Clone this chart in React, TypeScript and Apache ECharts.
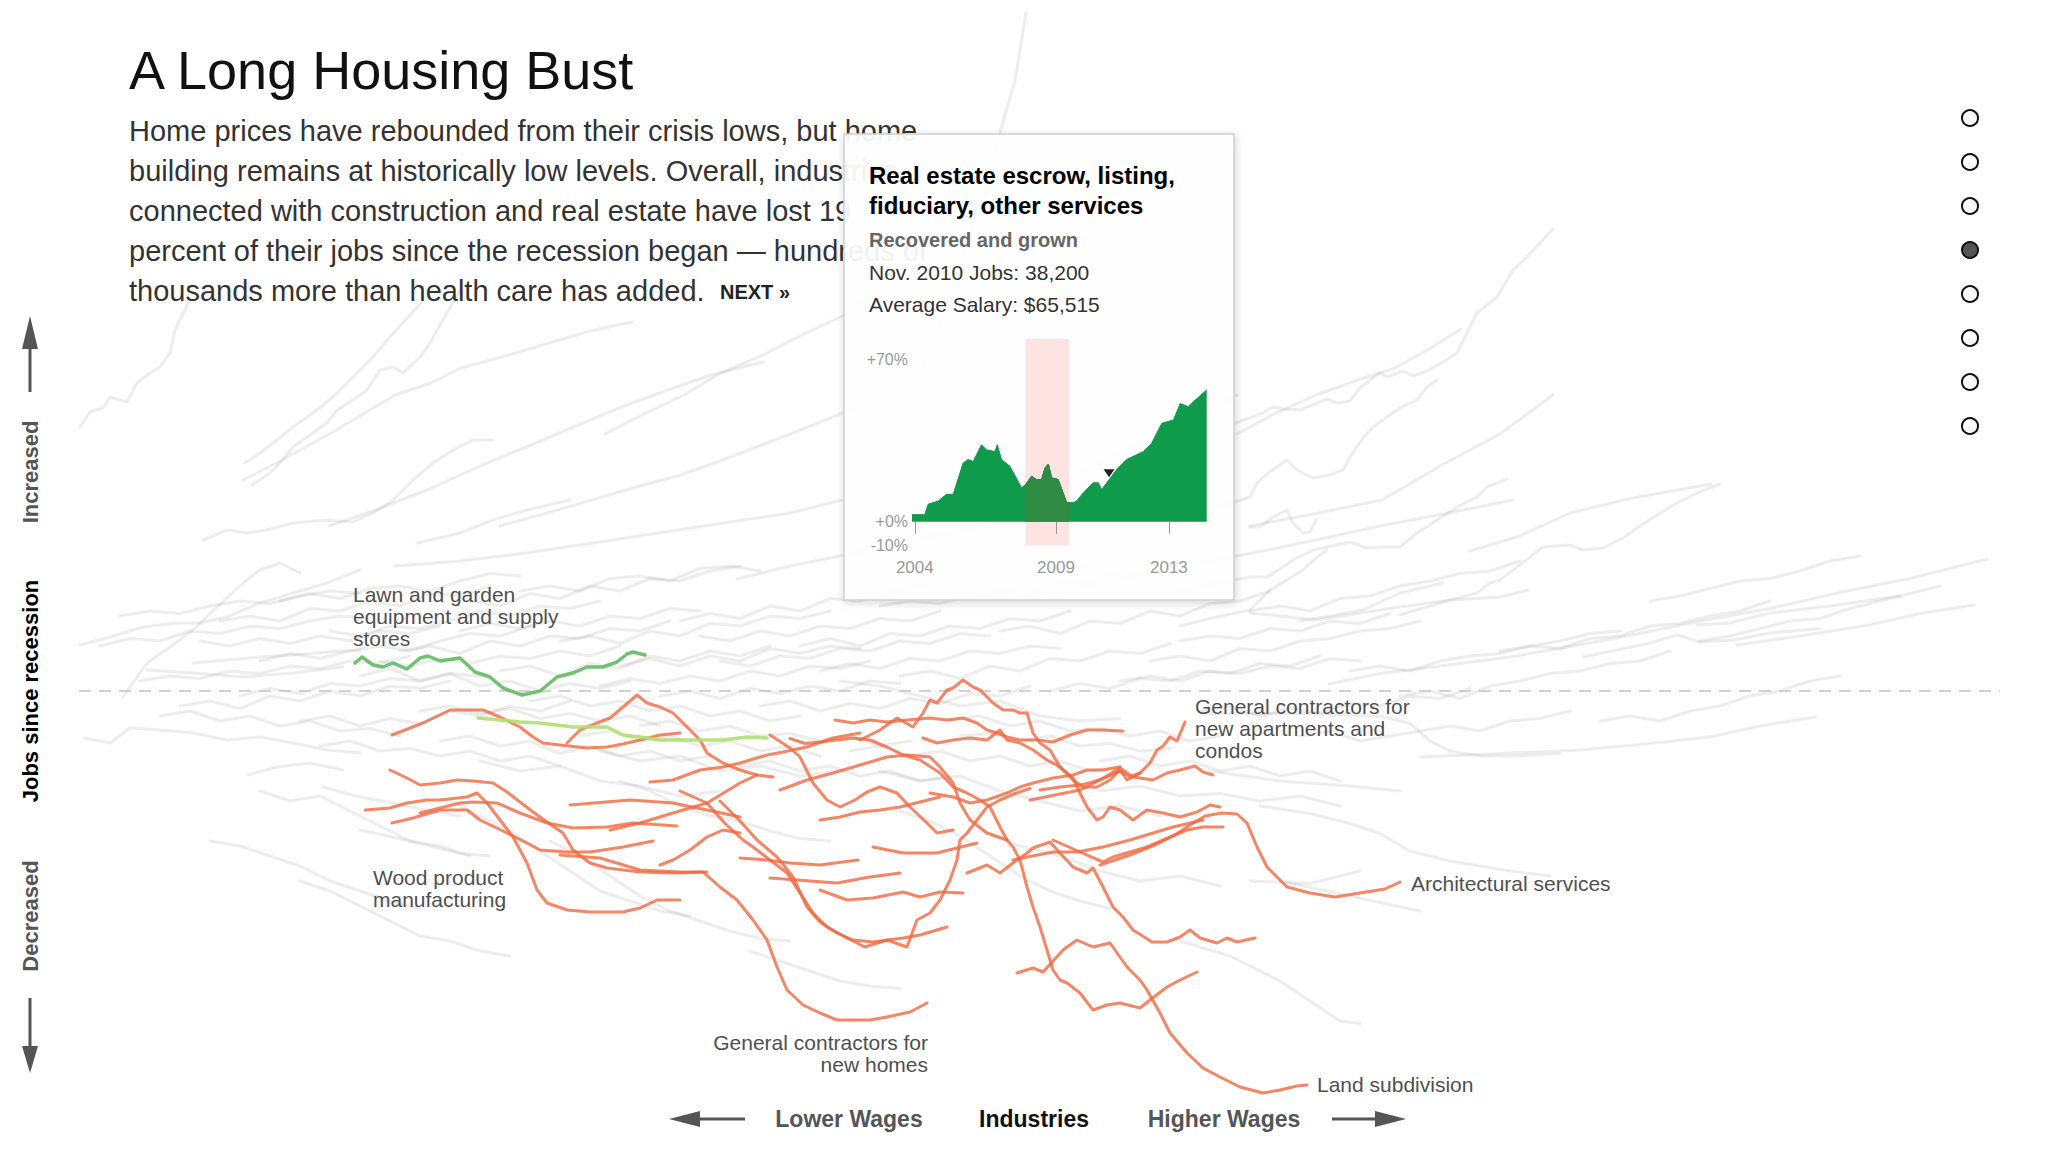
import React, { useEffect, useRef } from "react";
import * as echarts from "echarts";

const FONT = "'Liberation Sans', Arial, Helvetica, sans-serif";

// x = average wage ($k), y = jobs change since the recession began (%), flat [x, y, x, y, ...]
const grayUpper: number[][] = [
  [8, 52.8, 9, 55.8, 10.3, 56.6, 11, 58.8, 12.7, 57.8, 13.7, 61.6, 15, 63.6, 16, 64.8, 17, 67.6, 17.5, 72.2, 19, 78.2],
  [24.5, 45.6, 26, 47.6, 27.7, 50.2, 29.3, 52.8, 31.3, 55.6, 33.3, 58.8, 35.3, 62.8, 37.3, 66.8, 39, 70.8, 42.1, 77.6],
  [25.2, 41.2, 27, 43.6, 28, 45.6, 29.3, 48.8, 30.7, 50.8, 32.7, 53.6, 33.7, 56.2, 35.3, 58.2, 36.7, 60.2, 38, 64.2, 39.3, 64.8, 40.3, 63.6, 42, 66.8, 43, 69.6, 43.7, 72.2, 46, 80.2],
  [20.3, 30.2, 22.7, 32.2, 24.7, 31.6, 26.7, 32.2, 29.3, 33.6, 32.7, 34.2, 35.3, 33.8, 37.3, 35.6, 39.3, 38.2, 41.3, 42.2, 43.3, 45.6, 45.3, 48.2, 47.3, 50.2, 49.2, 50.2],
  [41.7, 29.6, 46, 31.6, 49.3, 34.2, 52.7, 36.2, 57, 38.2],
  [24.3, 42.2, 28.5, 46.5, 32.9, 51.4, 36, 55, 39.5, 59.2, 43, 61.5, 46.1, 64.6, 50.5, 67, 55.3, 69.8, 59, 72, 63.2, 73.8],
  [32.9, 33, 38, 36.5, 43.4, 40.8, 48, 45, 52.6, 48.8, 57, 52.5, 61.9, 56.6, 66.5, 60, 71.1, 63.2, 76.3, 65.8],
  [50, 33, 54.5, 35.5, 59.2, 38.2, 64, 41, 68.4, 43.4, 74, 47.5, 79, 51.4, 85.5, 56.6],
  [39.5, 25, 46, 26, 52.6, 27.6, 59, 29.5, 65.8, 31.6, 72, 33.5, 79, 35.6, 84.2, 38.2],
  [60.5, 51.4, 64, 55, 68.4, 59.2, 72, 63.5, 76.3, 67.2, 80, 71, 84.2, 75, 88, 80.5, 92.1, 85.6],
  [73.7, 22.4, 79, 25, 85.5, 27.6, 92, 30.5, 98.7, 33, 105.3, 34.2],
  [89.5, 56.6, 92.1, 64.6, 94, 73, 96.1, 85.6, 98, 97, 100, 111.8, 101.5, 122, 102.6, 135.6],
  [94.8, 35.6, 100, 38.5, 105.3, 40.8, 110, 45.5, 115.8, 51.4, 120, 55, 123.7, 59.2],
  [105.3, 19.8, 112, 22.5, 118.4, 25, 125, 27.5, 131.6, 30.2, 138, 33, 144.8, 35.6, 151.3, 38.2],
  [123.7, 51.4, 127.5, 55.5, 131.6, 59.2, 135.5, 62, 139.5, 64.6, 143, 68.5, 146.1, 72.4],
  [125, 33, 131.6, 35.5, 138.2, 38.2, 144, 45, 150, 51.4, 155.3, 59.2],
  [123, 53.2, 126.3, 55.6, 127.3, 56.8, 128.3, 56.4, 130, 56.2, 131, 57, 132.7, 58.4, 133.7, 57.6, 135, 58, 136, 60.6, 137, 62.2, 138, 63.6, 138.7, 62.8, 140.3, 64, 141.3, 63, 142.7, 64, 144.3, 65.8, 145.7, 67.6, 147, 72.8, 147.7, 75.6, 149.7, 78.8, 151.3, 84.2, 152.7, 86.8, 154, 89.6, 155.3, 92.4],
  [120, 36.2, 122.5, 37.2, 125, 38.8, 125.7, 41.6, 126.8, 43.6, 128.7, 46.2, 129.7, 44.2, 131.3, 42.6, 133, 43.2, 134.3, 44.2, 135, 46.8, 136.3, 50.6, 137.3, 52.8, 138.7, 54.8, 140, 56.6, 141.7, 58.2, 142.7, 60.8, 143.7, 62.2],
  [125, 32.8, 126, 32.8, 127.3, 34.8, 128.7, 36.2, 129.3, 33.6, 130.3, 31.6, 131, 31.8, 131.6, 34.2],
  [118, 20, 121.5, 21.5, 125, 22.8, 126.7, 22.8, 128.3, 24.8, 129.3, 26.2, 131.3, 28.2, 132.7, 28.8, 135, 29.8, 136.7, 28.6, 138.3, 28.8, 140, 28.8, 141.7, 31.6, 143.7, 34.2, 145.7, 36.8, 147.7, 38.8, 148.7, 40.8, 150.7, 42.4],
  [118, 13, 121, 14.5, 125, 16.2, 127, 20.2, 128.7, 22.2, 130.3, 24.2, 131.7, 26.8, 132.7, 28.2],
  [140, 15.2, 145, 18.2, 147.7, 19.6, 149, 21.6, 150, 22.2, 153, 26.8, 154.3, 28.8, 157, 29.2, 158.3, 28.2, 160.3, 28.6, 162.3, 30.6, 163.7, 32.6, 166, 35.6, 167.7, 37.6, 169.7, 39.6, 172, 41.4],
  [125, 15.6, 131.7, 14.2, 136, 15.6, 140, 16.8, 145, 18.2, 150, 18.8, 152.8, 20.2],
  [130, 14, 133, 15, 136.3, 16.2, 140, 19.6, 144.2, 21.6],
  [158.3, 6.8, 161.7, 8.2, 165, 9.6, 167.7, 11.2, 170, 9.8, 173.3, 10.2, 177, 11.6, 182, 12.5],
  [169.7, 13.2, 173, 13.6, 177, 15.6, 183, 17, 190, 19],
  [147, 28, 152, 31, 157, 35.6, 163, 38.5, 171.1, 41.4],
];

const grayBand: number[][] = [
  [8, 9.2, 11, 10.8, 14.3, 12.8, 17.7, 13.6, 20, 13.6, 22.7, 14.8, 26, 17.6, 29.3, 19.6, 32.7, 21.6, 36, 24.2],
  [12.3, -1.2, 14.7, 5.6, 17, 8.8, 19.3, 12.2, 21.7, 16.8, 24.3, 21.6, 26, 24.2, 28, 25.6, 30, 23.6],
  [8.5, -9.4, 11, -10.4, 13, -7.4, 16, -7.8, 19.3, -8.4, 22.7, -9.8, 26, -9.2, 29.3, -10.4, 32.7, -11.8, 36, -12.4],
  [19.3, 5.6, 22.7, 6.2, 26, 6.8, 29.3, 7.2, 32.7, 7.8, 36, 8.2],
  [14.7, 4.2, 19.3, 3.6, 24.3, 2.8, 29.3, 3.6, 34.3, 4.8],
  [10, 9, 13, 10.5, 16, 10, 19, 12, 22, 11.5, 25, 13, 28, 12.5, 31, 14, 34, 15, 37, 14.5],
  [14, 2, 17, 3, 20, 2.5, 23, 4, 26, 3.5, 29, 5, 32, 4.5, 35, 6, 38, 5.5, 41, 7],
  [18, -3, 21, -2, 24, -3.5, 27, -1, 30, -2, 33, 0, 36, -1, 39, 1, 42, 0.5, 45, 2],
  [22, 14, 25, 15, 28, 14, 31, 16.5, 34, 16, 37, 18, 40, 17, 43, 19.5, 46, 19, 49, 21],
  [26, 6, 29, 7.5, 32, 6.5, 35, 8, 38, 9, 41, 8, 44, 10, 47, 11.5, 50, 11, 53, 13],
  [30, -6, 33, -5, 36, -7, 39, -5.5, 42, -6.5, 45, -4, 48, -5, 51, -3, 54, -4, 57, -2],
  [33, 12, 36, 11, 39, 13, 42, 12.5, 45, 14, 48, 16, 51, 15, 54, 17, 57, 16.5, 60, 18],
  [36, 3, 39, 4.5, 42, 2, 45, 3.5, 48, 1, 51, 2, 54, 0, 57, 1.5, 60, 0.5, 63, 2],
  [40, 8, 43, 9, 46, 7.5, 49, 10, 52, 9, 55, 11, 58, 10.5, 61, 12.5, 64, 12, 67, 14],
  [44, -10, 47, -9, 50, -11, 53, -10, 56, -12.5, 59, -11, 62, -13, 65, -12, 68, -14, 71, -13],
  [47, 18, 50, 17, 53, 19.5, 56, 18.5, 59, 21, 62, 20, 65, 22.5, 68, 22, 71, 24, 74, 25],
  [50, 4, 53, 5, 56, 3, 59, 5.5, 62, 4.5, 65, 7, 68, 6, 71, 8, 74, 7, 77, 9],
  [53, -2, 56, -1, 59, -3, 62, -2, 65, -4, 68, -3, 71, -5, 74, -4, 77, -6, 80, -5],
  [56, 10, 59, 11, 62, 9.5, 65, 12, 68, 11, 71, 13.5, 74, 13, 77, 15, 80, 14.5, 83, 16],
  [60, 1, 63, 2.5, 66, 1.5, 69, 3, 72, 2, 75, 4, 78, 3, 81, 5, 84, 4.5, 87, 6],
  [64, -7, 67, -6, 70, -8, 73, -7, 76, -9, 79, -8.5, 82, -10, 85, -9, 88, -11, 91, -10],
  [68, 14, 71, 15.5, 74, 14.5, 77, 17, 80, 16, 83, 18.5, 86, 18, 89, 20, 92, 21, 95, 20.5],
  [72, 6, 75, 5, 78, 7, 81, 6.5, 84, 8.5, 87, 8, 90, 10, 93, 9.5, 96, 11.5, 99, 11],
  [76, -3, 79, -2, 82, -4, 85, -2.5, 88, -3.5, 91, -1.5, 94, -2.5, 97, -0.5, 100, -1, 103, 1],
  [80, 9, 83, 10.5, 86, 9, 89, 11.5, 92, 11, 95, 13, 98, 12.5, 101, 14.5, 104, 14, 107, 16],
  [85, -12, 88, -11, 91, -13, 94, -12, 97, -14, 100, -13, 103, -15, 106, -14, 109, -16, 112, -15],
  [90, 3, 93, 4, 96, 2.5, 99, 5, 102, 4, 105, 6.5, 108, 6, 111, 8, 114, 7.5, 117, 9.5],
  [95, -6, 98, -5, 101, -7, 104, -6, 107, -8, 110, -7.5, 113, -9, 116, -8, 119, -10, 122, -9],
  [100, 12, 103, 13, 106, 11.5, 109, 14, 112, 13.5, 115, 16, 118, 15, 121, 17.5, 124, 18, 127, 20],
  [105, 0, 108, 1.5, 111, 0.5, 114, 2.5, 117, 2, 120, 4, 123, 3.5, 126, 5.5, 129, 5, 132, 7],
  [110, -14, 113, -13, 116, -15, 119, -14, 122, -16, 125, -15, 128, -17, 131, -16, 134, -18],
  [115, 6, 118, 7, 121, 6, 124, 8.5, 127, 8, 130, 10, 133, 10.5, 136, 12, 139, 12.5, 142, 14],
  [120, -4, 123, -3, 126, -5, 129, -3.5, 132, -4.5, 135, -2.5, 138, -3, 141, -1, 144, -1.5, 147, 0.5],
  [125, 16, 128, 17, 131, 16, 134, 18.5, 137, 19, 140, 21, 143, 22, 146, 23.5, 149, 24, 152, 26],
  [130, -9, 133, -8, 136, -10, 139, -9, 142, -8, 145, -7, 148, -8, 151, -6, 154, -5.5, 157, -4],
  [135, 4, 138, 5, 141, 4, 144, 6, 147, 7, 150, 7.5, 153, 9, 156, 10, 159, 11.5, 162, 12],
  [140, -1, 143, 0, 146, -1.5, 149, 1, 152, 2, 155, 3.5, 158, 4, 161, 5.5, 164, 6, 167, 8],
  [150, 8, 153, 9, 156, 8.5, 159, 10.5, 162, 11, 165, 13, 168, 13.5, 171, 15, 174, 16, 177, 18],
  [160, -6, 163, -5, 166, -6, 169, -4, 172, -3, 175, -1, 178, 0, 181, 2, 184, 3],
  [170, 10, 173, 11, 176, 12.5, 179, 14, 182, 14.5, 185, 16.5, 188, 18, 191, 19.5, 194, 21],
  [165, 18, 168, 19, 171, 20.5, 174, 22, 177, 22.5, 180, 24, 183, 26, 186, 27],
  [132.9, 1.4, 138, 3.5, 144.8, 5.2, 151, 6.8, 157.9, 9.2, 164, 11.5, 171.1, 14.4, 177, 16.5, 184.2, 19.8, 191, 22.5, 198.7, 26.4],
  [173.7, 9.2, 180, 11, 186.9, 13.2, 192, 15.5, 197.4, 17.2],
  [84, 2, 88, 1, 92, -1, 96, -3, 100, -2, 104, -5, 108, -6, 112, -5.5],
  [88, -16, 92, -18, 96, -17, 100, -20, 104, -22, 108, -24, 112, -23, 116, -25],
  [98, -28, 102, -31, 106, -33, 110, -36, 114, -38, 118, -37, 122, -39],
  [110, -20, 114, -19, 118, -21, 122, -20.5, 126, -22, 130, -21, 134, -23],
  [60, -12, 64, -14, 68, -13, 72, -16, 76, -15, 80, -17, 84, -16],
  [48, -14, 52, -16, 56, -15, 60, -18, 64, -19, 68, -21, 72, -20],
  [12, 15, 15, 16, 18, 15.5, 21, 17, 24, 18, 27, 17.5, 30, 19, 33, 20, 36, 19.5],
  [16, -5, 19, -4, 22, -6, 25, -5, 28, -7, 31, -6, 34, -8, 37, -7.5, 40, -9],
  [20, 10, 23, 9, 26, 10.5, 29, 9.5, 32, 11, 35, 10, 38, 12, 41, 11.5, 44, 13],
  [24, -1, 27, 0.5, 30, -0.5, 33, 1.5, 36, 1, 39, 2.5, 42, 2, 45, 3.5, 48, 3],
  [28, 18, 31, 19.5, 34, 18.5, 37, 20.5, 40, 21, 43, 20, 46, 22, 49, 23.5, 52, 23],
  [32, -11, 35, -10, 38, -12, 41, -11.5, 44, -13, 47, -12, 50, -14, 53, -13, 56, -15],
  [38, 6, 41, 5, 44, 6.5, 47, 5.5, 50, 7, 53, 6.5, 56, 8, 59, 7, 62, 9],
  [42, -4, 45, -3, 48, -4.5, 51, -3.5, 54, -5.5, 57, -4.5, 60, -6, 63, -5, 66, -7],
  [46, 12, 49, 13.5, 52, 12.5, 55, 14, 58, 13, 61, 15, 64, 14.5, 67, 16.5, 70, 16],
  [52, 20, 55, 21, 58, 20, 61, 22.5, 64, 23, 67, 22, 70, 24.5, 73, 25, 76, 24],
  [58, -9, 61, -8, 64, -10, 67, -9, 70, -11, 73, -10, 76, -12, 79, -11, 82, -13],
  [62, 5, 65, 6.5, 68, 5, 71, 7, 74, 6, 77, 8.5, 80, 7.5, 83, 9, 86, 8.5],
  [66, -1, 69, 0, 72, -1.5, 75, 0.5, 78, -0.5, 81, 1, 84, 0, 87, 2, 90, 1.5],
  [70, 11, 73, 10, 76, 12, 79, 11, 82, 13, 85, 12.5, 88, 14.5, 91, 14, 94, 16],
  [74, -15, 77, -14, 80, -16, 83, -15, 86, -17, 89, -16, 92, -18, 95, -17],
  [82, 4, 85, 5.5, 88, 4.5, 91, 6.5, 94, 6, 97, 8, 100, 7.5, 103, 9, 106, 8.5],
  [88, 17, 91, 18, 94, 17.5, 97, 19, 100, 20, 103, 19.5, 106, 21.5, 109, 22, 112, 23.5],
  [96, -9, 99, -8.5, 102, -10, 105, -9, 108, -11, 111, -10.5, 114, -12, 117, -11.5],
  [112, 2, 115, 3, 118, 2, 121, 4, 124, 3.5, 127, 5, 130, 4.5, 133, 6.5, 136, 6],
  [118, 10, 121, 11, 124, 10.5, 127, 12.5, 130, 12, 133, 14, 136, 13.5, 139, 15.5],
];

const grayLower: number[][] = [
  [24.8, -16.8, 27.7, -15.2, 31, -14.4, 34.3, -15.8],
  [32.3, -19.2, 36, -21.2, 39.3, -22.4, 43, -24, 46, -25],
  [36, -27.8, 39.3, -29.2, 43, -31, 46, -32.5, 49, -33],
  [21, -30, 24, -31, 27, -33, 30, -35, 33, -38, 36, -40, 39, -42, 42, -43.5],
  [26, -20, 29, -22, 32, -21, 35, -24, 38, -27, 41, -30, 44, -31, 47, -33],
  [30, -38, 33, -40, 36, -43, 39, -46, 42, -49, 45, -50, 48, -52, 51, -53],
  [45, -22, 48, -25, 51, -28, 54, -32, 57, -36, 60, -40, 63, -42, 66, -44, 69, -45],
  [55, -30, 58, -33, 61, -37, 64, -41, 67, -44, 70, -46, 73, -48, 76, -49.5, 79, -50],
  [75, -52, 78, -54, 81, -56, 84, -58, 87, -59, 90, -59.5],
  [62, -18, 65, -20, 68, -23, 71, -25, 74, -26, 77, -28, 80, -29.5, 83, -30],
  [90, -24, 93, -26, 96, -29, 99, -33, 102, -37, 105, -40, 108, -42, 111, -43.5],
  [118, -50, 123, -53, 128, -58, 131, -62, 134, -66, 136, -66.5],
  [126, -23, 131, -24.5, 135, -26.5, 138, -28.5, 141, -32, 145, -34, 148, -35, 151, -36, 155, -37],
  [121, -16, 128, -18, 135, -19, 140, -20],
  [121, -4.5, 131, -4.5, 138, -5, 141, -6.5, 143, -10, 145, -12, 148, -13, 151, -13, 156, -12.5],
  [125, -38, 131, -38.5, 136, -36],
  [128, -38, 135, -41, 142, -44],
  [142, -13.2, 150, -12.5, 158, -11.8, 165, -10.5, 171, -9.2, 176, -7, 181.6, -5.2],
];

// construction and real estate industries
const woodProduct = [36.5, -23.8, 39, -23.4, 40.7, -22.4, 42.7, -21.8, 44, -21.8, 46.7, -21.2, 47.7, -20.4, 48.7, -22.4, 50, -25.8, 51.3, -29.2, 52.7, -34.4, 53.7, -39.8, 54.7, -42.4, 56.7, -43.8, 59, -44.2, 62.3, -44.2, 64, -43.4, 65.7, -41.8, 68, -41.8];
const contractorsNewHomes = [56, -32.8, 60, -33.4, 64, -35.8, 68, -36.2, 70.3, -36.2, 72, -39.2, 73.7, -41.8, 75.3, -45.8, 76.7, -49.8, 77.7, -55.2, 78.7, -59.8, 80.3, -62.8, 82, -64.4, 83.7, -65.8, 87, -65.8, 88.7, -65.2, 91, -64.2, 92.7, -62.4];
const contractorsApartments = [104, -19.8, 106, -19.2, 108, -18.8, 109.3, -18.2, 110.7, -17.2, 112, -16, 113, -17.2, 114, -16.4, 115, -14.4, 115.7, -11.8, 116.3, -11, 117, -9.2, 117.7, -10, 118.5, -6.2];
const architecturalServices = [110, -34.8, 113, -32.8, 115.5, -30.8, 117.5, -28.8, 119, -26.8, 120.5, -25, 122.2, -24.4, 123.7, -24.6, 124.7, -26.4, 125.7, -31.2, 126.7, -35.2, 128.7, -39.2, 131, -40.4, 133.5, -41.2, 136, -40.4, 138.5, -39.6, 140, -38.2];
const landSubdivision = [101.7, -56.4, 103.3, -55.4, 104.3, -56.2, 106.3, -51.8, 107.7, -49.8, 109.3, -51.2, 111, -50.4, 112.7, -55.2, 114, -57.8, 114.7, -59.8, 116, -64.4, 117, -68.4, 118.7, -72.4, 120.3, -75.4, 122, -77.2, 124, -79.2, 126.3, -80.4, 128, -79.8, 129.7, -79, 130.7, -78.8];
const otherConstruction: number[][] = [
  [39.2, -8.8, 42.3, -6.4, 45, -3.8, 48.3, -3.8, 50, -5.2, 52, -7.2, 53.3, -9.2, 54.3, -10.4, 56, -10.8, 58.7, -11.4, 60.7, -11.2, 62.3, -10.6, 64, -9.8, 66, -8.8, 68, -8.4],
  [56.7, -10.4, 58, -7.8, 59.7, -6.4, 61, -5.4, 62.3, -3.2, 63.7, -0.8, 64.7, -2.4, 66, -3.2, 67.3, -4.4, 68.7, -7.2, 70, -9.8, 70.7, -12.4, 72.3, -14.4, 74, -15.8, 75.7, -16.8, 77.3, -17.2],
  [65, -18.2, 67.3, -17.8, 70, -15.8, 72.3, -15.2, 74, -14.4, 76.7, -12.8, 78.3, -12.2, 80.7, -11.2, 83.3, -9.4, 86, -8.4],
  [39, -15.8, 40.7, -17.4, 42, -18.8, 44, -18.4, 45.7, -17.8, 47.3, -18, 49.3, -18.4, 50.7, -20.2, 52, -22.2, 53.3, -24.2, 54.7, -26.2, 56.3, -28.4, 57.3, -31.8, 59, -34.4, 60.7, -35.4, 64, -36.2, 67.3, -36.4, 70.7, -36.2],
  [39.2, -26.4, 41.3, -25.4, 44, -23.8, 46.7, -23.8, 48, -25.8, 50.7, -28.4, 52.7, -30.4, 54, -31.8, 56.7, -32.2, 59, -32.2, 62.3, -31.2, 65.3, -30],
  [42, -24.4, 44, -23.4, 46, -22.4, 47.3, -22.2, 49.7, -22.4, 52, -24.4, 54.7, -26.4, 57.3, -27.4, 60.7, -27.2, 63.3, -26.4, 67.7, -27],
  [57, -22.8, 63, -21.8, 67.3, -22.4, 70.7, -23.8, 74, -25.2],
  [68, -20, 70.7, -22.4, 72.5, -26.5, 74.3, -29.8, 75.3, -31.2, 77, -33.8, 78.7, -36.4, 80, -40.4, 81.3, -44.4, 82.7, -47.2, 84.7, -49.4, 86.5, -51.2, 88.7, -49.8, 90.7, -51.2, 91.7, -45.8, 93, -44.4, 94, -41.8, 95, -37.8, 95.7, -33.8, 96, -29.8, 96.7, -28.4, 97.7, -25.8, 98.7, -23.2, 100, -21.8, 101.5, -20.5, 103, -19.5],
  [72, -22, 74, -26, 75.7, -29.8, 77.7, -33.2, 79.3, -37.2, 80.7, -43.2, 82, -46.2, 83.7, -48.4, 85.3, -49.8, 87.3, -50.2, 90.3, -49.4, 92, -48.8, 94.7, -47.2],
  [74, -33.4, 76.7, -33.8, 79, -34.4, 82, -34.8, 85.8, -33.8],
  [77, -37.4, 79.7, -37.8, 83.7, -38.4, 87, -37.2, 90, -36.4],
  [82, -39.8, 84.7, -41.8, 87.3, -41.4, 90.3, -40.2, 92, -41.2, 94, -40.2, 96.3, -40.4],
  [87.3, -31.2, 90.3, -32.4, 93.7, -32.4, 97.7, -30.4],
  [79, -9.5, 80.5, -10.5, 82, -10.2, 83.7, -9.8, 85.3, -9.4, 87, -9.8, 88.7, -11.2, 90.3, -12.8, 92, -13.8, 94, -16.4, 95.3, -19.2, 96.7, -20.4, 98, -21.8, 99, -23.2, 100, -27.2, 100.7, -29.8, 101.3, -31.2, 102, -33.8, 102.7, -39.2, 103.3, -43.2, 104, -47.2, 104.7, -51.8, 105.3, -55.8, 106, -57.8, 106.7, -58.4, 108, -60.4, 109.3, -63.8, 110.7, -62.8, 112, -62.4, 114, -63.4, 115, -61.8, 116.7, -59.2, 118, -57.8, 119.7, -56.2],
  [86, -9.8, 88, -7.8, 89.7, -5.4, 91.3, -7.2, 92.3, -4.4, 93, -1.8, 93.7, -2.4, 94.7, 0.2, 95.3, 0.6, 96.3, 2.2, 97.3, 0.8, 98, 0.2, 98.7, -1.2, 99.3, -2.4, 100.3, -3.8, 101.3, -3.8, 102, -4.4, 102.7, -4.4, 103.3, -8.4, 104, -10.4, 105, -11.8, 106, -15.2, 107.3, -17.8, 108.3, -19.2, 109.7, -19.2, 111, -17.8, 112, -15.8, 112.7, -17.8, 114, -16.4],
  [83.5, -5.8, 85.3, -6.4, 87, -5.8, 88.7, -6.2, 90.7, -5.8, 93, -5.4, 94.7, -5.8, 96.3, -5.4, 97.7, -6.4, 98.7, -7.8, 99.7, -8.4, 100.7, -9.2, 102, -9.8, 103.7, -9.8, 105.3, -10.2, 107, -8.8, 108.7, -7.8, 110.3, -7.8, 112.3, -8],
  [92.3, -9.4, 93.7, -10.4, 95.3, -9.8, 97, -9.4, 98.7, -9.8, 100, -7.8, 100.7, -9.8, 102, -10.4, 103.3, -11.8, 104.7, -13.8, 106, -15.2, 107.3, -17.4, 108, -20.4, 108.7, -23.2, 109.7, -25.8, 110.3, -25.2, 111, -23.2, 112, -23.8, 113.3, -25.8, 114.7, -23.8, 116.3, -24.4, 118, -25.2, 119.7, -24.2, 121, -22.8, 122, -23.2],
  [103, -21.8, 105.5, -20.8, 108, -19.8, 110, -17.8, 112, -15.4, 113.3, -17.2, 115.3, -17.8, 116.7, -16.4, 118, -15.8, 119.5, -15, 120.3, -16.2, 121.3, -16.8],
  [105.3, -29.8, 108, -32.2, 110.3, -34.2, 111.3, -33.2, 113, -32.2, 114.7, -31.2, 117, -29.2, 118.7, -27.8, 120.3, -27.2, 122.3, -27.2],
  [101.3, -33.8, 102.7, -33.2, 105.3, -32.2, 107.7, -32.2, 110.3, -31.2, 113, -29.8, 115.3, -28.4, 117.3, -27.2, 120.3, -25.8],
  [96.7, -36.4, 98.7, -34.8, 100, -36.4, 101.3, -34.4, 102.7, -32.4, 103.3, -31.4, 105, -30.2, 106, -32.4, 107.3, -35.2, 108.7, -36.4, 109.3, -35.4, 110.3, -39.2, 111.3, -43.2, 112.3, -45.2, 113.3, -47.8, 115.2, -50.2, 116.7, -50.2, 118, -49.2, 119, -47.8, 120, -49.4, 121.7, -50.4, 122.7, -49.4, 123.7, -50.2, 125.5, -49.4],
  [77, -8.8, 79, -11.4, 80, -13.2, 81.3, -18.4, 82.7, -21.8, 84, -23.2, 85.5, -21.8, 86.7, -20.2, 88, -19.2, 89.7, -20.4, 91, -23.2, 92.7, -26.4, 93.7, -28.4, 95.3, -27.8],
  [78, -19.8, 80.7, -17.8, 83.3, -16.4, 86, -14.8, 88.7, -13.2, 90.7, -12.8, 93, -13.2, 94, -15.2, 95.3, -18.4, 96, -22.4, 97, -25.8, 98.7, -28.4, 100.7, -29.8],
  [93, -20.4, 95.3, -21.2, 97, -22.4, 98.7, -21.8, 100.7, -20.4, 102, -19.2, 103.3, -18.4, 105.3, -17.4, 107.3, -16.8, 108.7, -15.8, 110.3, -15.8, 112, -15.2],
  [82, -25.8, 84, -25.2, 86, -24.2, 88, -23.8, 90, -23.2, 92, -22.2, 94, -21.2],
  [66, -34.8, 67.3, -33.8, 69, -31.8, 70.7, -29.2, 72.3, -27.8, 74, -28.4],
  [61, -27.8, 64, -26.4, 67.3, -24.4, 70.7, -22.4, 74, -18.4, 75.7, -16.8],
];

const lawnGarden = [35.5, 5.6, 36.2, 6.8, 37.3, 5.2, 38.3, 4.8, 39.3, 5.6, 40.7, 4.4, 42, 6.6, 42.8, 7, 44, 6, 46, 6.6, 47.5, 3.8, 49, 2.8, 50.3, 0.6, 52.2, -0.8, 54, 0, 55.7, 2.8, 57.3, 3.6, 58.7, 4.8, 60.3, 4.8, 61.7, 5.8, 62.7, 7.4, 63.3, 7.8, 64.5, 7.2];
const lawnGardenOther = [47.8, -5.4, 50, -5.8, 52, -6.2, 54, -6.4, 55.7, -6.8, 57.3, -7.2, 60.7, -7.2, 62.3, -8.8, 64, -9.2, 66, -9.8, 69, -9.8, 72.3, -9.8, 74.7, -9.2, 76.7, -9.4];
const zeroSpan = [7.9, 200];

// Real estate escrow, listing, fiduciary, other services: % change in jobs since 2004
const escrowYears = [2003.9, 2004.35, 2004.47, 2004.83, 2005.12, 2005.36, 2005.71, 2005.89, 2006.07, 2006.36, 2006.54, 2006.84, 2006.92, 2007.07, 2007.37, 2007.78, 2007.92, 2008.14, 2008.31, 2008.49, 2008.61, 2008.73, 2008.85, 2009.08, 2009.38, 2009.46, 2009.61, 2009.73, 2009.97, 2010.32, 2010.5, 2010.62, 2010.8, 2011.15, 2011.5, 2011.74, 2012.1, 2012.39, 2012.75, 2013.16, 2013.4, 2013.69, 2013.93, 2014.34];
const escrowChange = [3.1, 3.1, 7.6, 9, 11.9, 11.9, 25.4, 26.9, 26.1, 33.3, 31.1, 30.4, 33.3, 26.9, 24, 14.7, 16.1, 19.7, 18.3, 18.3, 23.3, 25, 19, 18.3, 8.3, 8.3, 8.3, 9, 12.6, 16.9, 16.9, 14, 16.9, 22.6, 26.9, 28.3, 30.4, 34, 42.6, 44, 51.1, 49.7, 52.6, 57];
const recession = [2007.92, 2009.46];
const selectedMonth = [2010.88, 21];
const miniYearTicks = [2004, 2009, 2013];
const miniPctTicks = [-10, 0, 70];

const bodyLines = [
  "Home prices have rebounded from their crisis lows, but home",
  "building remains at historically low levels. Overall, industries",
  "connected with construction and real estate have lost 19",
  "percent of their jobs since the recession began \u2014 hundreds of",
  "thousands more than health care has added.",
];
const navDots = [0, 1, 2, 3, 4, 5, 6, 7];
const activeDot = 3;

const pairs = (a: number[]) => {
  const out: number[][] = [];
  for (let i = 0; i < a.length; i += 2) out.push([a[i], a[i + 1]]);
  return out;
};

const mainLine = (pts: number[], color: string, width: number) => ({
  type: "line",
  xAxisIndex: 0,
  yAxisIndex: 0,
  data: pairs(pts),
  symbol: "none",
  silent: true,
  lineStyle: { color, width, cap: "round", join: "round" },
});

const text = (x: number, y: number, t: string, size: number, color: string, weight = "normal", align = "left", z = 50, rotation = 0) => ({
  type: "text",
  x,
  y,
  z,
  rotation,
  silent: true,
  style: { text: t, fill: color, font: `${weight} ${size}px ${FONT}`, align, verticalAlign: "middle" },
});

function buildOption() {
  const GRAY = "rgba(165,165,165,0.2)";
  const ORANGE = "rgba(243,104,62,0.8)";
  const series: any[] = [];
  [...grayUpper, ...grayBand, ...grayLower].forEach(l => series.push(mainLine(l, GRAY, 3)));
  series.push({
    type: "line",
    xAxisIndex: 0,
    yAxisIndex: 0,
    data: [[zeroSpan[0], 0], [zeroSpan[1], 0]],
    symbol: "none",
    silent: true,
    lineStyle: { color: "#c4c4c4", width: 1.5, type: [12, 8] },
  });
  [...otherConstruction, woodProduct, contractorsNewHomes, contractorsApartments, architecturalServices, landSubdivision]
    .forEach(l => series.push(mainLine(l, ORANGE, 3)));
  series.push(mainLine(lawnGardenOther, "rgba(176,222,116,0.9)", 3.5));
  series.push(mainLine(lawnGarden, "rgba(98,186,100,0.9)", 3.5));

  // inset chart
  const escrow = escrowYears.map((y, i) => [y, escrowChange[i]]);
  const inRecession = escrow.filter(p => p[0] >= recession[0] && p[0] <= recession[1]);
  series.push({
    type: "line",
    xAxisIndex: 1,
    yAxisIndex: 1,
    z: 105,
    data: escrow,
    symbol: "none",
    silent: true,
    lineStyle: { opacity: 0 },
    markArea: {
      silent: true,
      z: 105,
      itemStyle: { color: "#fde3e2" },
      data: [[{ xAxis: recession[0] }, { xAxis: recession[1] }]],
    },
  });
  series.push({
    type: "line",
    xAxisIndex: 1,
    yAxisIndex: 1,
    z: 110,
    data: escrow,
    symbol: "none",
    silent: true,
    lineStyle: { color: "#0f9a4c", width: 1 },
    areaStyle: { color: "#0f9a4c", opacity: 1 },
    markPoint: {
      silent: true,
      z: 115,
      symbol: "triangle",
      symbolRotate: 180,
      symbolSize: [11, 8],
      itemStyle: { color: "#222" },
      label: { show: false },
      data: [{ coord: selectedMonth }],
    },
  });
  series.push({
    type: "line",
    xAxisIndex: 1,
    yAxisIndex: 1,
    z: 111,
    data: inRecession,
    symbol: "none",
    silent: true,
    lineStyle: { color: "#2f8a43", width: 1 },
    areaStyle: { color: "#2f8a43", opacity: 1 },
  });

  const graphics: any[] = [];
  graphics.push(text(129, 70, "A Long Housing Bust", 54, "#111"));
  bodyLines.forEach((l, i) => graphics.push(text(129, 131 + i * 40, l, 29, "#333")));
  graphics.push(text(720, 292, "NEXT \u00bb", 20, "#222", "bold"));

  // vertical axis legend
  graphics.push({ type: "polygon", z: 50, silent: true, shape: { points: [[30, 316], [22, 349], [38, 349]] }, style: { fill: "#555" } });
  graphics.push({ type: "line", z: 50, silent: true, shape: { x1: 30, y1: 348, x2: 30, y2: 392 }, style: { stroke: "#555", lineWidth: 3 } });
  graphics.push(text(30, 472, "Increased", 22, "#555", "bold", "center", 50, Math.PI / 2));
  graphics.push(text(30, 691, "Jobs since recession", 22, "#000", "bold", "center", 50, Math.PI / 2));
  graphics.push(text(30, 916, "Decreased", 22, "#555", "bold", "center", 50, Math.PI / 2));
  graphics.push({ type: "line", z: 50, silent: true, shape: { x1: 30, y1: 998, x2: 30, y2: 1047 }, style: { stroke: "#555", lineWidth: 3 } });
  graphics.push({ type: "polygon", z: 50, silent: true, shape: { points: [[30, 1073], [22, 1046], [38, 1046]] }, style: { fill: "#555" } });

  // horizontal axis legend
  graphics.push({ type: "polygon", z: 50, silent: true, shape: { points: [[669, 1119], [700, 1111], [700, 1127]] }, style: { fill: "#555" } });
  graphics.push({ type: "line", z: 50, silent: true, shape: { x1: 699, y1: 1119, x2: 745, y2: 1119 }, style: { stroke: "#555", lineWidth: 3 } });
  graphics.push(text(849, 1119, "Lower Wages", 23, "#555", "bold", "center"));
  graphics.push(text(1034, 1119, "Industries", 23, "#111", "bold", "center"));
  graphics.push(text(1224, 1119, "Higher Wages", 23, "#555", "bold", "center"));
  graphics.push({ type: "line", z: 50, silent: true, shape: { x1: 1332, y1: 1119, x2: 1376, y2: 1119 }, style: { stroke: "#555", lineWidth: 3 } });
  graphics.push({ type: "polygon", z: 50, silent: true, shape: { points: [[1406, 1119], [1375, 1111], [1375, 1127]] }, style: { fill: "#555" } });

  // industry labels
  const LABEL = "#505050";
  ["Lawn and garden", "equipment and supply", "stores"].forEach((t, i) => graphics.push(text(353, 594 + i * 22, t, 21, LABEL)));
  ["Wood product", "manufacturing"].forEach((t, i) => graphics.push(text(373, 877 + i * 22, t, 21, LABEL)));
  ["General contractors for", "new homes"].forEach((t, i) => graphics.push(text(928, 1042 + i * 22, t, 21, LABEL, "normal", "right")));
  ["General contractors for", "new apartments and", "condos"].forEach((t, i) => graphics.push(text(1195, 706 + i * 22, t, 21, LABEL)));
  graphics.push(text(1411, 883, "Architectural services", 21, LABEL));
  graphics.push(text(1317, 1084, "Land subdivision", 21, LABEL));

  // slide navigation
  navDots.forEach(i => graphics.push({
    type: "circle", z: 50, silent: true,
    shape: { cx: 1970, cy: 118 + i * 44, r: 8 },
    style: { fill: i === activeDot ? "#555" : "#fff", stroke: "#111", lineWidth: 2 },
  }));

  // tooltip card (slightly see-through, like the original)
  graphics.push({
    type: "rect", z: 100, silent: true,
    shape: { x: 844, y: 134, width: 390, height: 466 },
    style: { fill: "rgba(255,255,255,0.93)", stroke: "#cfcfcf", lineWidth: 1.5, shadowBlur: 8, shadowColor: "rgba(0,0,0,0.18)", shadowOffsetX: 1, shadowOffsetY: 2 },
  });
  graphics.push(text(869, 175, "Real estate escrow, listing,", 24, "#000", "bold", "left", 120));
  graphics.push(text(869, 205, "fiduciary, other services", 24, "#000", "bold", "left", 120));
  graphics.push(text(869, 240, "Recovered and grown", 20, "#666", "bold", "left", 120));
  graphics.push(text(869, 272, "Nov. 2010 Jobs: 38,200", 21, "#333", "normal", "left", 120));
  graphics.push(text(869, 304, "Average Salary: $65,515", 21, "#333", "normal", "left", 120));

  return {
    animation: false,
    backgroundColor: "#fff",
    textStyle: { fontFamily: FONT },
    grid: [
      { left: 0, top: 0, width: 2064, height: 1149 },
      { left: 912, top: 339, width: 295, height: 206 },
    ],
    xAxis: [
      { type: "value", gridIndex: 0, min: 0, max: 206.4, show: false },
      {
        type: "value", gridIndex: 1, min: 2003.9, max: 2014.35, z: 120,
        axisLine: { show: false },
        splitLine: { show: false },
        axisTick: { show: true, length: 12, customValues: miniYearTicks, lineStyle: { color: "#999", width: 1 } },
        axisLabel: {
          customValues: miniYearTicks, color: "#999", fontSize: 17, margin: 14, fontFamily: FONT,
          formatter: (v: number) => String(v),
        },
      },
    ],
    yAxis: [
      { type: "value", gridIndex: 0, min: -91.6, max: 138.2, show: false },
      {
        type: "value", gridIndex: 1, min: -10, max: 79, z: 120,
        axisLine: { show: false },
        axisTick: { show: false },
        splitLine: { show: false },
        axisLabel: {
          customValues: miniPctTicks, color: "#999", fontSize: 16, margin: 4, fontFamily: FONT,
          formatter: (v: number) => (v >= 0 ? "+" : "") + v + "%",
        },
      },
    ],
    series,
    graphic: { elements: graphics },
  };
}

export default function App() {
  const ref = useRef<HTMLDivElement>(null);

  useEffect(() => {
    if (!ref.current) return;
    const chart = echarts.init(ref.current, null, { renderer: "svg" });
    chart.setOption(buildOption());
    return () => chart.dispose();
  }, []);

  return <div ref={ref} style={{ position: "fixed", left: 0, top: 0, width: 2064, height: 1149, background: "#fff" }} />;
}
